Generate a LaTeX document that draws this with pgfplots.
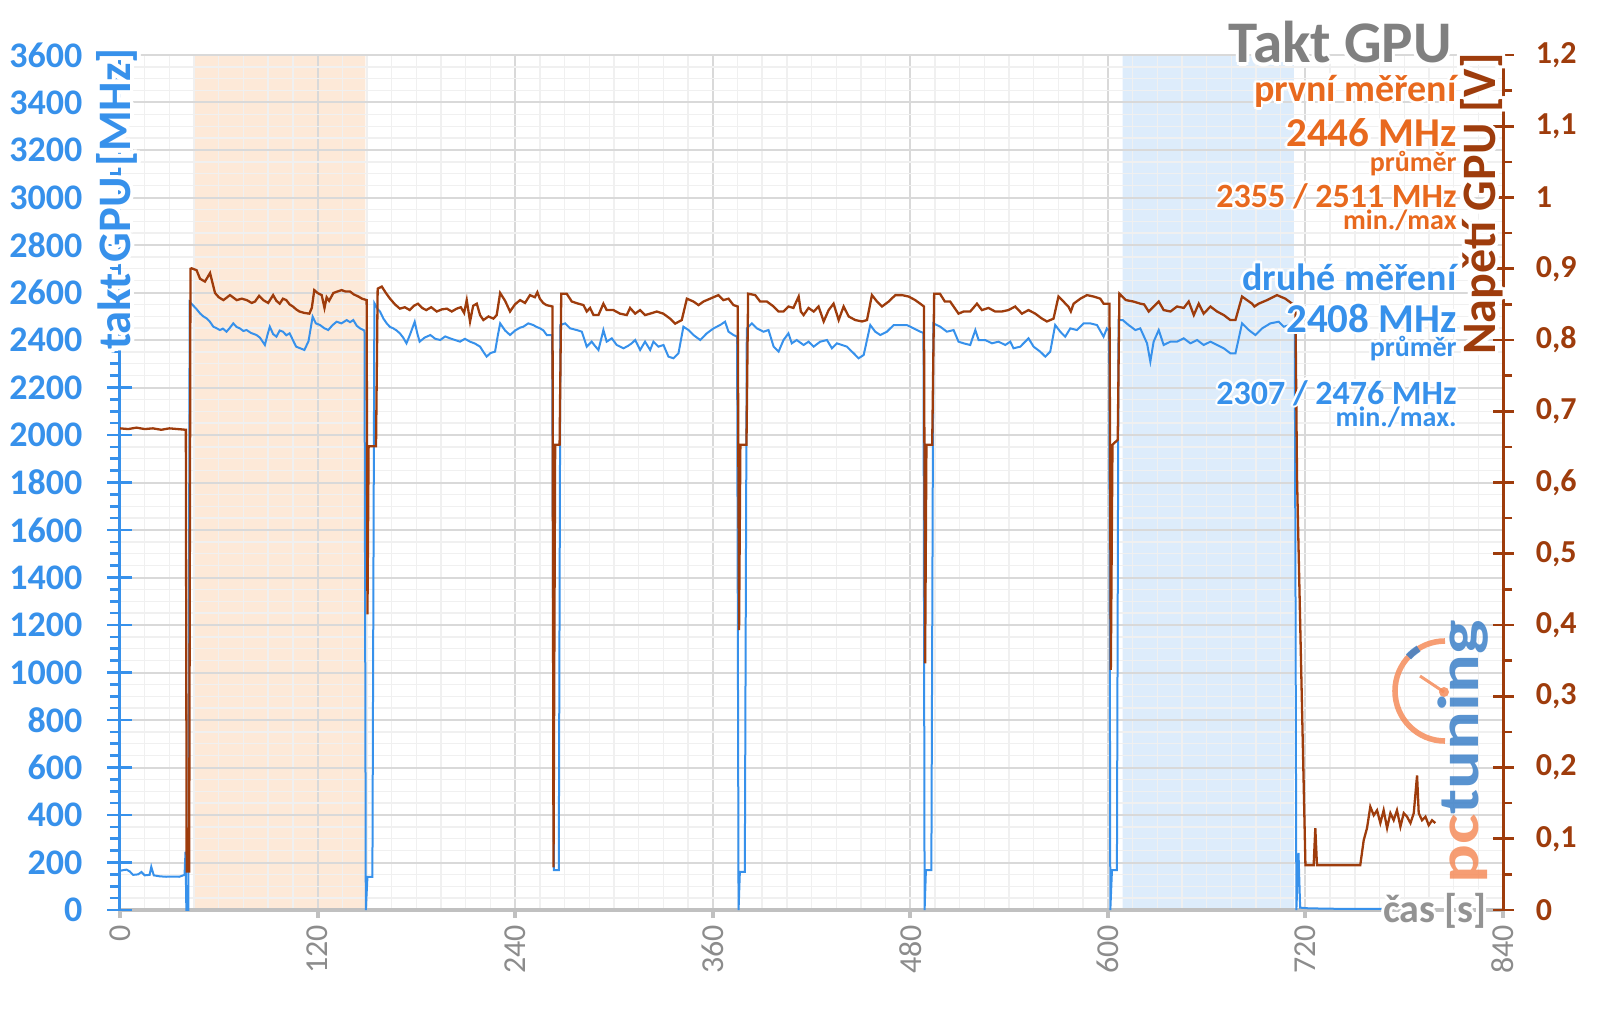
\documentclass[border=0pt]{standalone}
\usepackage{fontspec}
\setmainfont{Carlito}
\usepackage{pgfplots}
\usetikzlibrary{calc}
\pgfplotsset{compat=1.18}

\definecolor{cblue}{RGB}{55,145,235}
\definecolor{cbrown}{RGB}{158,60,12}
\definecolor{corange}{RGB}{232,105,30}
\definecolor{ctitle}{RGB}{128,128,128}
\definecolor{cxlab}{RGB}{140,140,140}
\definecolor{cxaxis}{RGB}{192,192,192}
\definecolor{shadeor}{RGB}{253,233,216}
\definecolor{shadebl}{RGB}{221,236,251}
\definecolor{logoor}{RGB}{245,140,90}
\definecolor{logobl}{RGB}{60,128,200}

\newcommand\halo[4]{%
  \foreach \a in {0,45,...,315}{\node[#3,text=white] at ([shift={(\a:#1)}]#2) {#4};}%
  \node[#3] at (#2) {#4};}

\pgfplotsset{base/.style={scale only axis, width=691.5pt, height=427.5pt, xmin=0, xmax=840,
  /pgf/number format/assume math mode=true}}

\begin{document}
\begin{tikzpicture}
% grid + shaded regions
\begin{axis}[base, ymin=0, ymax=3600, axis on top,
  axis line style={draw=none}, tick style={draw=none},
  xtick={0,120,...,840}, minor x tick num=7,
  ytick={0,200,...,3600}, minor y tick num=3,
  grid=both,
  major grid style={draw=black!15, line width=1pt},
  minor grid style={draw=black!6, line width=0.7pt},
  xticklabels={}, yticklabels={}]
\addplot[fill=shadeor, draw=none] coordinates {(45,0) (45,3600) (149,3600) (149,0)} \closedcycle;
\addplot[fill=shadebl, draw=none] coordinates {(609,0) (609,3600) (713,3600) (713,0)} \closedcycle;
\end{axis}
% x axis
\begin{axis}[base, ymin=0, ymax=3600,
  axis x line*=bottom, axis y line=none, ytick=\empty,
  xtick={0,120,...,840}, tick align=outside, major tick length=4pt,
  axis line style={-, draw=cxaxis, line width=2pt},
  tick style={draw=cxaxis, line width=2pt},
  x tick label style={rotate=90, anchor=east, font=\fontsize{16pt}{16pt}\selectfont, text=cxlab}]
\end{axis}
% left axis, frequency
\begin{axis}[base, ymin=0, ymax=3600,
  axis y line*=left, axis x line=none, xtick=\empty,
  ytick={0,200,...,3600}, minor y tick num=3,
  tick align=center, major tick length=12.5pt, minor tick length=5pt,
  minor tick style={xshift=-2.5pt},
  axis line style={-, draw=cblue, line width=1.5pt},
  tick style={draw=cblue, line width=1.3pt},
  y tick label style={xshift=-9pt, font=\fontsize{18pt}{18pt}\selectfont\bfseries, text=cblue, /pgf/number format/1000 sep={}}]
\addplot[cblue, line width=1pt] coordinates {
(0,165) (2,168) (4,170) (6,162) (8,148) (11,150) (13,160) (15,146) (18,148) (19,182) (20.5,146) (24,142) (28,140) (32,141) (36,140) (39.2,148) (39.8,246) (40.3,0) (41.5,0) (42.3,2560) (44.2,2547) (46.5,2530) (48.6,2512) (50.5,2500) (52.6,2491) (54.5,2478) (56.7,2456) (58.5,2450) (60.7,2442) (62.5,2448) (64.7,2435) (66.8,2452) (68.8,2470) (70.8,2455) (72.8,2449) (74.9,2438) (76.9,2442) (79.5,2430) (82.9,2421) (85,2410) (88,2379) (89.5,2420) (91,2456) (93,2425) (95,2414) (97,2440) (99,2435) (101,2420) (103,2428) (105,2400) (107,2372) (109.5,2365) (112,2358) (114.5,2395) (117,2498) (119,2470) (121.5,2463) (124,2450) (126.5,2442) (129,2462) (131.6,2477) (134.5,2470) (137.7,2484) (139.7,2475) (141.7,2484) (143.8,2460) (145.8,2449) (148.5,2440) (149.3,0) (150.3,140) (153.3,140) (154.5,2555) (156.5,2530) (158,2519) (160,2490) (162,2470) (164,2455) (166,2449) (168,2440) (170,2428) (172,2410) (174,2386) (176,2420) (179,2477) (180.5,2430) (182,2393) (185,2410) (188.5,2421) (191.5,2405) (194.5,2400) (197.5,2415) (200.5,2407) (203.5,2400) (206.5,2393) (209.5,2405) (212.6,2393) (215.6,2385) (218.7,2372) (220.7,2350) (222.7,2330) (225,2345) (227.8,2351) (229.5,2420) (230.9,2470) (233.9,2440) (236.9,2421) (240,2440) (243,2452) (245,2456) (248,2470) (251,2463) (253,2455) (255.2,2449) (257.2,2440) (259.2,2421) (262.5,2421) (263.5,168) (266.5,168) (267.5,2463)
(270.3,2470) (273.4,2449) (277.4,2442) (280.5,2435) (283.5,2372) (286.5,2393) (288.5,2375) (290.6,2358) (293.6,2442) (295.6,2393) (298.7,2407) (301.7,2379) (305.8,2365) (308.5,2375) (310.8,2386) (312.9,2400) (315.9,2358) (318.9,2393) (322,2358) (324,2393) (327,2372) (330.1,2379) (333.1,2330) (336.2,2323) (339.2,2344) (342.2,2456) (345.3,2442) (348.3,2421) (352.4,2400) (356.4,2428) (360.5,2449) (364.5,2463) (367.5,2477) (369.6,2435) (372.6,2421) (374.8,2414) (375.7,0) (376.5,161) (379.5,161) (380.7,2449)
(383.8,2470) (386.8,2449) (390.9,2435) (393.9,2442) (397,2372) (400,2351) (403,2400) (406,2428) (408,2386) (411,2400) (415.2,2379) (418.2,2393) (421.3,2372) (425.3,2393) (429.4,2400) (432.4,2365) (435.5,2386) (438.5,2379) (441.5,2372) (445.6,2344) (448.6,2323) (451.7,2337) (455.7,2463) (458.7,2435) (461.8,2421) (465.8,2435) (469.9,2463) (473.9,2463) (477.9,2463) (482,2449) (486,2435) (488,2430) (488.7,0) (489.5,168) (492.8,168) (494,2470)
(498.2,2456) (502.2,2435) (506.3,2442) (509.3,2393) (512.4,2386) (516.4,2379) (519.5,2442) (521.5,2400) (525.5,2400) (529.6,2386) (533.6,2393) (537.7,2379) (540.7,2393) (542.7,2365) (546.8,2372) (551.8,2407) (554.9,2372) (558.9,2351) (562,2330) (565,2351) (568,2463) (571.1,2435) (574.1,2414) (577.2,2449) (581.2,2442) (585.3,2470) (589.3,2470) (593.4,2463) (597.4,2414) (599.4,2449) (600.8,2440) (601.5,0) (602.5,168) (605.5,168) (606.5,2484)
(609,2484) (612.6,2463) (616.7,2442) (619.7,2449) (623.8,2386) (625.8,2309) (627.8,2393) (630.9,2442) (633.9,2379) (638,2393) (642,2393) (646.1,2407) (650.1,2386) (654.2,2400) (658.2,2379) (662.3,2393) (666.3,2379) (670.4,2365) (674.4,2344) (677.5,2344) (681.5,2470) (685.6,2442) (689.6,2421) (693.7,2449) (698.7,2470) (703.8,2477) (706.8,2456) (710,2462) (713.5,2455) (714.5,0) (715.8,240) (716.8,10) (722,7) (740,5) (767,5)
};
\end{axis}
% right axis, voltage
\begin{axis}[base, ymin=0, ymax=1.2,
  axis y line*=right, axis x line=none, xtick=\empty,
  ytick={0,0.1,0.2,0.3,0.4,0.5,0.6,0.7,0.8,0.9,1,1.1,1.2}, minor y tick num=1,
  tick align=center, major tick length=10.5pt, minor tick length=4.5pt,
  minor tick style={xshift=2.25pt},
  axis line style={-, draw=cbrown, line width=1.5pt},
  tick style={draw=cbrown, line width=1.3pt},
  y tick label style={xshift=7.7pt, font=\fontsize{16pt}{16pt}\selectfont\bfseries, text=cbrown, /pgf/number format/use comma}]
\addplot[cbrown, line width=1.15pt] coordinates {
(0,0.676) (5,0.675) (10,0.677) (15,0.675) (20,0.676) (25,0.674) (30,0.676) (35,0.675) (40,0.674) (40.5,0.054) (42,0.054) (42.8,0.9) (43.5,0.9006) (46.5,0.898) (48.6,0.886) (51.6,0.882) (54.7,0.894) (57.7,0.866) (60,0.860) (62.8,0.856) (66.8,0.863) (70.9,0.856) (74,0.858) (77,0.856) (80,0.852) (82,0.854) (84.5,0.862) (87,0.856) (90,0.852) (93,0.863) (95,0.855) (97,0.851) (99,0.858) (101,0.856) (103,0.850) (105,0.847) (107,0.843) (109,0.840) (112,0.838) (115,0.837) (116.5,0.845) (118,0.870) (120,0.866) (122.5,0.863) (124.2,0.845) (125.5,0.860) (127,0.855) (129.6,0.866) (132,0.868) (134.6,0.870) (137,0.868) (139.7,0.868) (142,0.864) (144.8,0.861) (147,0.858) (149.8,0.856) (150.3,0.415) (151,0.651) (155.5,0.651) (156.5,0.872) (159,0.875) (161.5,0.866) (164,0.858) (167,0.850) (170,0.844) (173,0.846) (176,0.842) (178.5,0.848) (181,0.851) (183.5,0.845) (186,0.842) (189,0.846) (192.4,0.840) (195.5,0.843) (198.5,0.844) (201.5,0.840) (204.5,0.844) (207,0.846) (209,0.838) (210.6,0.856) (212.6,0.826) (214.5,0.848) (216.7,0.851) (218.7,0.835) (220.7,0.828) (223.8,0.833) (226.8,0.830) (228.8,0.835) (230.9,0.866) (233.9,0.855) (236.9,0.840) (239.9,0.850) (243,0.856) (246,0.852) (249,0.863) (252,0.860) (253.5,0.867) (255,0.858) (257,0.852) (259,0.849) (262.7,0.847) (263.3,0.06) (264.3,0.653) (267,0.653) (268,0.865)
(271.3,0.865) (274.4,0.854) (278.4,0.851) (281.5,0.849) (283.5,0.840) (285.5,0.845) (287.6,0.835) (290.6,0.835) (293.6,0.851) (295.6,0.842) (299.7,0.842) (303.7,0.837) (307.8,0.835) (309.8,0.845) (312.9,0.837) (315.9,0.842) (318.9,0.835) (322,0.837) (326,0.840) (330,0.837) (334.1,0.830) (337.2,0.823) (341.2,0.828) (344.3,0.858) (348.3,0.854) (351.4,0.849) (354.4,0.854) (358.4,0.858) (363.5,0.863) (366.5,0.856) (369.6,0.858) (372.6,0.849) (375.2,0.847) (376,0.393) (376.8,0.653) (380.5,0.653) (381.5,0.865)
(385.8,0.863) (388.8,0.854) (392.9,0.854) (397,0.847) (400,0.840) (403,0.840) (406,0.847) (409,0.845) (412.2,0.861) (413.5,0.840) (415.2,0.835) (418.2,0.845) (421.3,0.840) (424.3,0.847) (427.4,0.826) (430.4,0.842) (433.4,0.851) (436.5,0.828) (439.5,0.847) (442.6,0.833) (446.6,0.828) (450.7,0.826) (453.7,0.828) (456.7,0.863) (459.8,0.854) (462.8,0.847) (466.9,0.854) (470.9,0.863) (475,0.863) (479,0.861) (483,0.856) (486,0.851) (488.3,0.847) (489,0.346) (489.8,0.653) (493.3,0.653) (494.5,0.865)
(498,0.865) (501,0.854) (504.2,0.854) (509.3,0.837) (512.4,0.840) (516.4,0.840) (520.5,0.851) (523.5,0.842) (527.5,0.845) (531.5,0.840) (535.6,0.840) (539.6,0.842) (543.7,0.847) (547.8,0.837) (551.8,0.842) (555.9,0.837) (560,0.830) (563,0.826) (567,0.830) (570,0.861) (573,0.854) (576,0.847) (577.5,0.840) (579.2,0.851) (583.3,0.858) (587.3,0.863) (591.4,0.861) (595.4,0.858) (597.4,0.851) (601,0.851) (601.8,0.337) (602.8,0.653) (606,0.660) (607,0.865)
(611,0.856) (615.5,0.854) (619.7,0.851) (622,0.850) (624.8,0.840) (627.8,0.847) (630.9,0.854) (633.9,0.842) (638,0.840) (642,0.847) (646.1,0.845) (649.1,0.854) (652.2,0.835) (655.2,0.851) (658.2,0.837) (662.3,0.847) (666.3,0.840) (670.4,0.835) (674.4,0.828) (677.5,0.828) (681.5,0.861) (684.5,0.856) (687.6,0.851) (689,0.847) (691.6,0.851) (696.7,0.856) (702.7,0.863) (707.8,0.858) (711.9,0.851) (713.9,0.849) (714.9,0.606) (720,0.063) (725,0.063) (726,0.115) (727,0.063) (753.3,0.063) (755.4,0.098) (757.4,0.115) (759.4,0.145) (761.5,0.133) (763.5,0.140) (765.5,0.122) (767.5,0.140) (769.6,0.115) (771.6,0.136) (773.6,0.126) (775.6,0.140) (777.7,0.117) (779.7,0.136) (781.7,0.131) (783.8,0.122) (785.8,0.136) (787.8,0.189) (788.8,0.136) (790.8,0.126) (792.9,0.131) (794.9,0.119) (796.9,0.126) (798.9,0.122)
};
\end{axis}
% texts in pixel coordinates of the reference
\begin{scope}[shift={(-60pt,455pt)}, x=0.5pt, y=-0.5pt]
  % logo
  \begin{scope}[opacity=0.85]
    \draw[logoor, line width=2.8pt] (1445,691) ++(90:50) arc[start angle=90, end angle=270, radius=50];
    \draw[logobl, line width=3.5pt] (1445,691) ++(-122:50) arc[start angle=-122, end angle=-137, radius=50];
    \draw[logoor, line width=1.5pt] (1420,676) -- (1444,692);
    \fill[logoor] (1444,692) circle[radius=5];
    \node[rotate=90, xscale=1.25, anchor=base west, inner sep=0pt, font=\fontsize{29pt}{29pt}\selectfont\bfseries] at (1478,884) {\textcolor{logoor}{pc}\textcolor{logobl}{tuning}};
  \end{scope}
  \halo{1.6pt}{1452,63}{anchor=base east, inner sep=0pt, font=\fontsize{29.5pt}{30pt}\selectfont\bfseries, text=ctitle}{Takt GPU}
  \halo{1.3pt}{1457,101.7}{anchor=base east, inner sep=0pt, font=\fontsize{19pt}{20pt}\selectfont\bfseries, text=corange}{první měření}
  \halo{1.3pt}{1457,147}{anchor=base east, inner sep=0pt, font=\fontsize{20.5pt}{21pt}\selectfont\bfseries, text=corange}{2446 MHz}
  \halo{1.1pt}{1457,171}{anchor=base east, inner sep=0pt, font=\fontsize{14pt}{15pt}\selectfont\bfseries, text=corange}{průměr}
  \halo{1.2pt}{1457,207}{anchor=base east, inner sep=0pt, font=\fontsize{17pt}{18pt}\selectfont\bfseries, text=corange}{2355 / 2511 MHz}
  \halo{1.1pt}{1457,229}{anchor=base east, inner sep=0pt, font=\fontsize{14pt}{15pt}\selectfont\bfseries, text=corange}{min./max}
  \halo{1.3pt}{1457,290}{anchor=base east, inner sep=0pt, font=\fontsize{19pt}{20pt}\selectfont\bfseries, text=cblue}{druhé měření}
  \halo{1.3pt}{1457,332}{anchor=base east, inner sep=0pt, font=\fontsize{20.5pt}{21pt}\selectfont\bfseries, text=cblue}{2408 MHz}
  \halo{1.1pt}{1457,356}{anchor=base east, inner sep=0pt, font=\fontsize{14pt}{15pt}\selectfont\bfseries, text=cblue}{průměr}
  \halo{1.2pt}{1457,404}{anchor=base east, inner sep=0pt, font=\fontsize{17pt}{18pt}\selectfont\bfseries, text=cblue}{2307 / 2476 MHz}
  \halo{1.1pt}{1457,426}{anchor=base east, inner sep=0pt, font=\fontsize{14pt}{15pt}\selectfont\bfseries, text=cblue}{min./max.}
  \halo{1.5pt}{1487,922}{anchor=base east, inner sep=0pt, font=\fontsize{20pt}{21pt}\selectfont\bfseries, text=ctitle!85}{čas [s]}
  \halo{2.2pt}{117,199}{rotate=90, inner sep=0pt, font=\fontsize{23.3pt}{24pt}\selectfont\bfseries, text=cblue}{takt GPU [MHz]}
  \halo{2pt}{1482,204}{rotate=90, inner sep=0pt, font=\fontsize{24pt}{25pt}\selectfont\bfseries, text=cbrown}{Napětí GPU [V]}
\end{scope}
\pgfresetboundingbox
\path[use as bounding box] (-60pt,-49.5pt) rectangle (740pt,455pt);
\end{tikzpicture}
\end{document}
